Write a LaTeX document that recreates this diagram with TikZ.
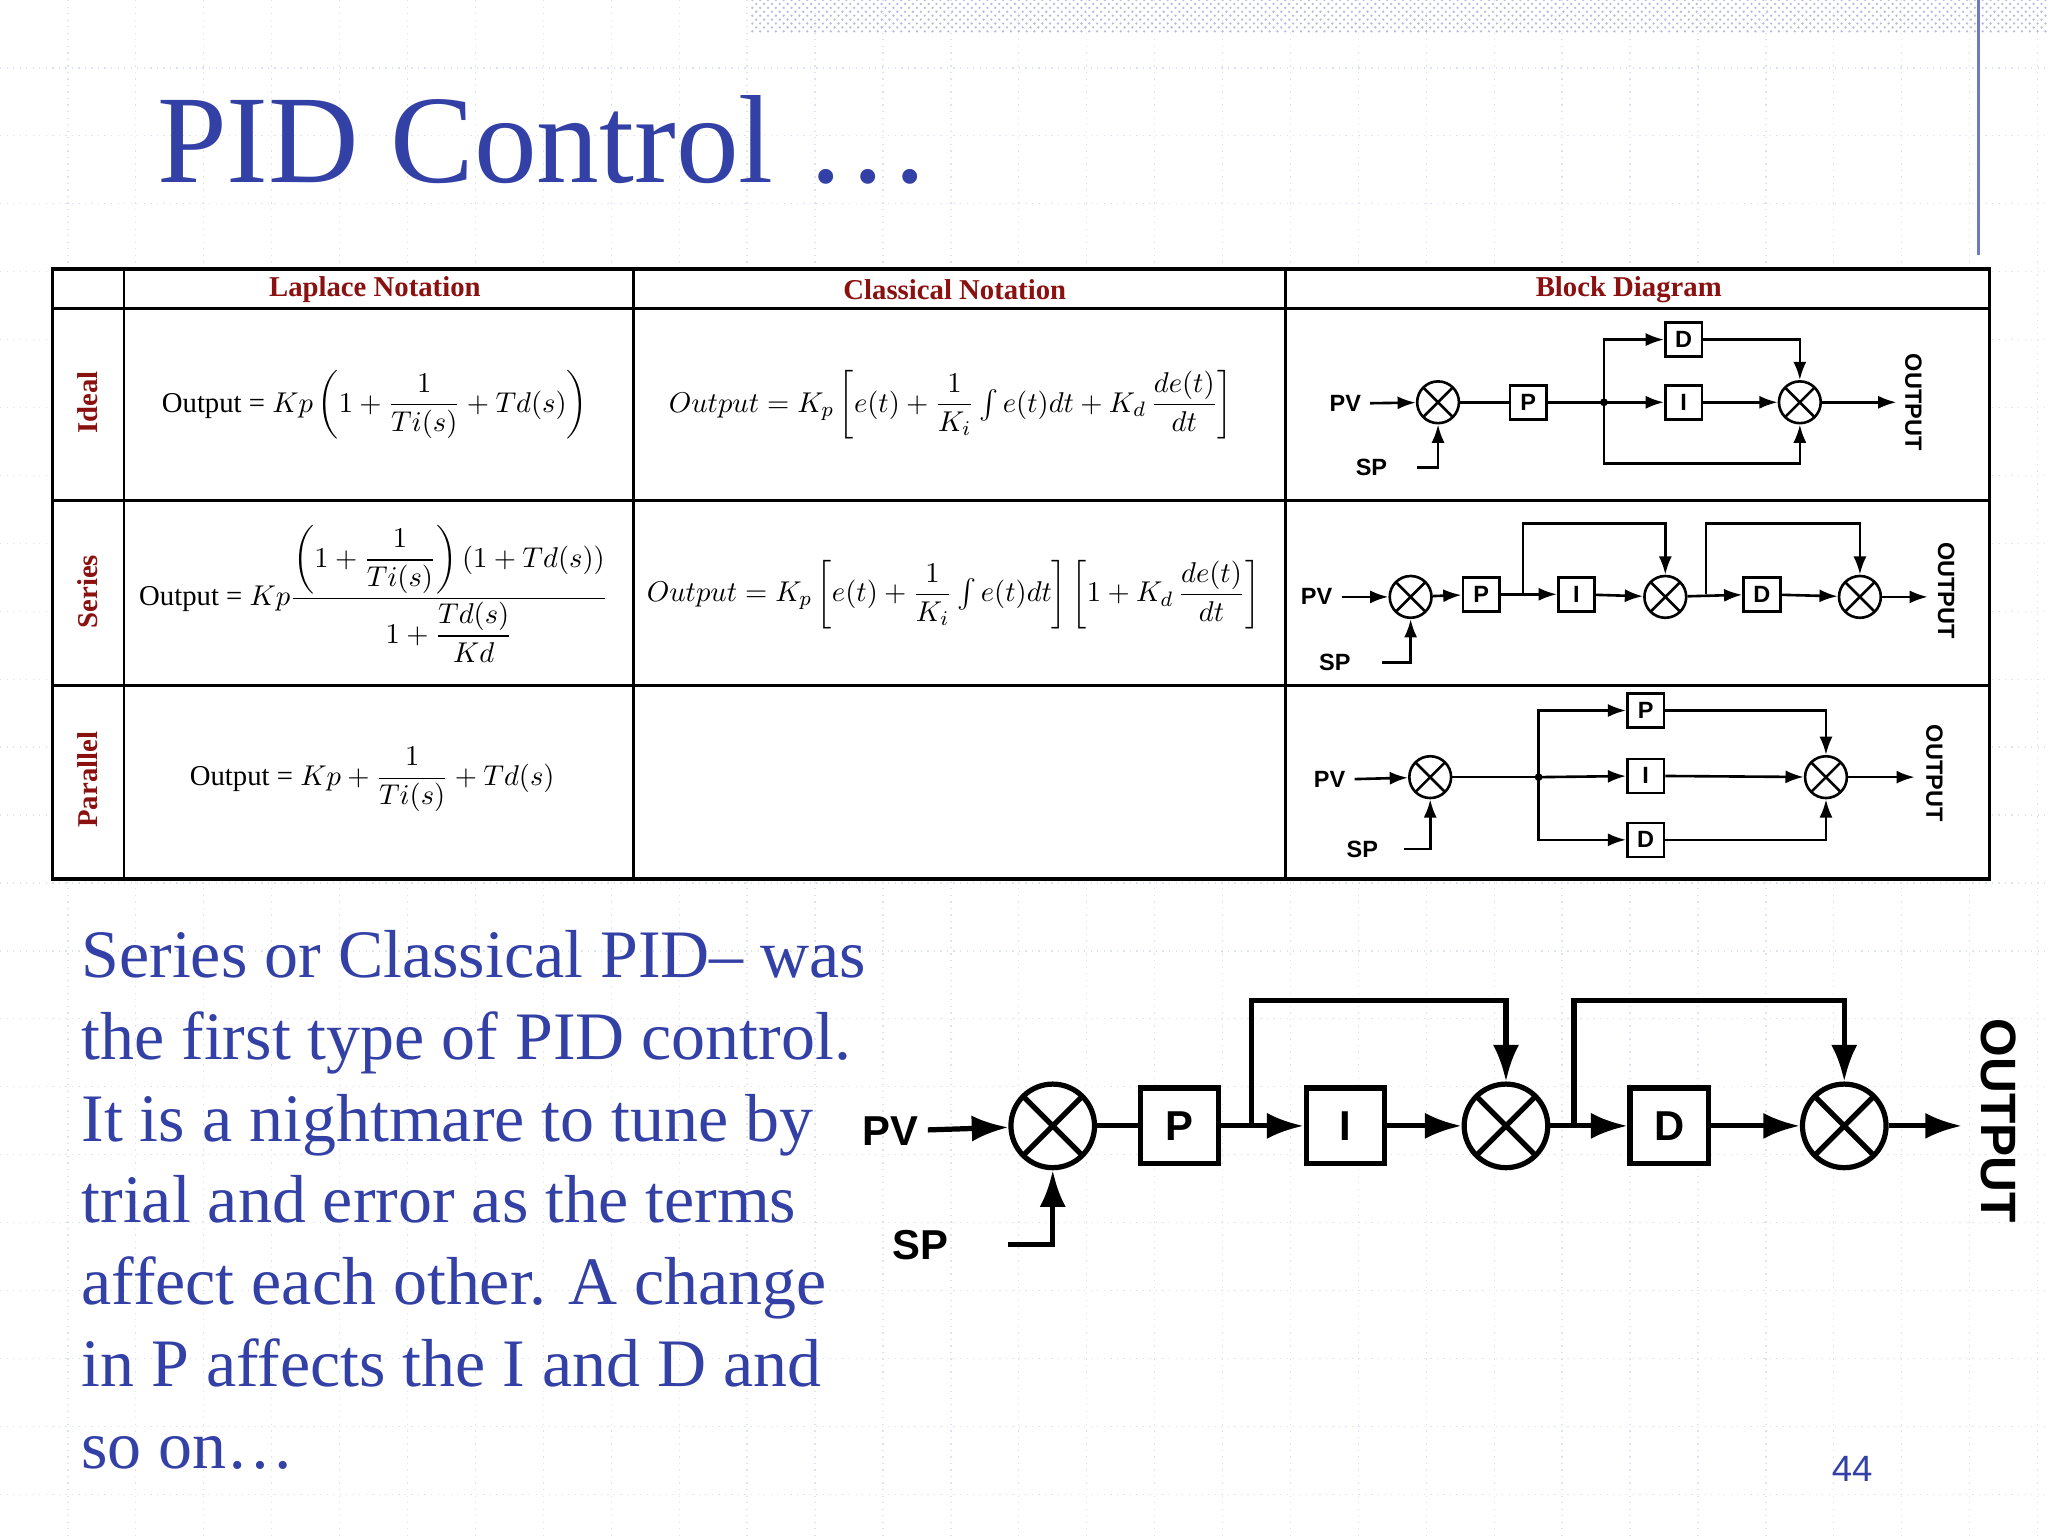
\documentclass[tikz,border=0pt]{standalone}
\usepackage{amsmath}
\usepackage{fontspec}
\setmainfont{Liberation Serif}
\newfontfamily\sans{Liberation Sans}
\usetikzlibrary{arrows.meta,patterns}
\definecolor{ttl}{HTML}{3341A6}
\definecolor{hdr}{HTML}{8B1010}
\definecolor{gridc}{HTML}{DCE2F0}
\begin{document}
\begin{tikzpicture}[x=0.5pt,y=-0.5pt,
  sj/.style={circle,draw,line width=#1,inner sep=0pt,fill=white,
    path picture={\draw[line width=#1] (path picture bounding box.north west)--(path picture bounding box.south east)
      (path picture bounding box.north east)--(path picture bounding box.south west);}},
  blk/.style={draw,line width=#1,fill=white,inner sep=0pt,font=\sans\bfseries},
  ln/.style={line width=#1},
  ar/.style={line width=#1,-{Latex[length=7pt*#1/1pt,width=5pt*#1/1pt]}},
  lbl/.style={font=\sans\bfseries\fontsize{9}{9}\selectfont}]
\useasboundingbox (0,0) rectangle (1568,1176);
\fill[white] (0,0) rectangle (1568,1176);
\foreach \x in {52,104,...,1568} \draw[gridc,dotted,line width=0.5pt] (\x,0)--(\x,1176);
\foreach \y in {52,104,...,1176} \draw[gridc,dotted,line width=0.5pt] (0,\y)--(1568,\y);
\fill[pattern=crosshatch dots,pattern color=ttl!35] (575,0) rectangle (1568,25);
\draw[ttl!70,line width=1pt] (1515,0)--(1515,195);
% title
\node[anchor=base west,text=ttl,font=\fontsize{48}{48}\selectfont,inner sep=0] (title) at (120,140) {PID Control \ldots};
% table
\fill[white] (40,206) rectangle (1523,673);
\draw[line width=1.3pt] (40,206) rectangle (1523,673);
\foreach \x in {95,485,984} \draw[line width=1pt] (\x,206)--(\x,673);
\foreach \y in {236,383,525} \draw[line width=1pt] (40,\y)--(1523,\y);
\begin{scope}[every node/.style={text=hdr,font=\bfseries\fontsize{11}{11}\selectfont}]
\node (h1) at (287,222) {Laplace Notation};
\node (h2) at (731,222) {Classical Notation};
\node (h3) at (1247,222) {Block Diagram};
\node[rotate=90] (r1) at (67,308) {Ideal};
\node[rotate=90] (r2) at (67,453) {Series};
\node[rotate=90] (r3) at (67,597) {Parallel};
\end{scope}
\begin{scope}[every node/.style={font=\fontsize{11}{13}\selectfont}]
\node (l1) at (287,310) {Output = $Kp\left(1+\dfrac{1}{Ti(s)}+Td(s)\right)$};
\node (c1) at (728,310) {$Output=K_p\left[e(t)+\dfrac{1}{K_i}\int e(t)dt+K_d\,\dfrac{de(t)}{dt}\right]$};
\node (l2) at (286,455) {Output = $Kp\dfrac{\left(1+\dfrac{1}{Ti(s)}\right)(1+Td(s))}{1+\dfrac{Td(s)}{Kd}}$};
\node (c2) at (730,455) {$Output=K_p\left[e(t)+\dfrac{1}{K_i}\int e(t)dt\right]\left[1+K_d\,\dfrac{de(t)}{dt}\right]$};
\node (l3) at (285,597) {Output = $Kp+\dfrac{1}{Ti(s)}+Td(s)$};
\end{scope}
% ideal
\node[lbl] (pv1) at (1030,309) {PV};
\node[sj=1pt,minimum size=16pt] (s1a) at (1101,308) {};
\node[blk=1pt,minimum width=14pt,minimum height=13pt,lbl] (p1) at (1170,308) {P};
\coordinate (j1) at (1228,308);
\node[blk=1pt,minimum width=14pt,minimum height=13pt,lbl] (i1) at (1289,308) {I};
\node[blk=1pt,minimum width=14pt,minimum height=13pt,lbl] (d1) at (1289,260) {D};
\node[sj=1pt,minimum size=16pt] (s1b) at (1378,308) {};
\coordinate (o1) at (1452,308);
\node[lbl,rotate=-90] (out1) at (1465,308) {OUTPUT};
\node[lbl] (sp1) at (1050,358) {SP};
\draw[ar=1pt] (pv1)--(s1a);
\draw[ln=1pt] (s1a)--(p1) (p1)--(j1);
\fill (j1) circle (3);
\draw[ar=1pt] (j1)--(i1);
\draw[ar=1pt] (i1)--(s1b);
\draw[ar=1pt] (j1)|-(d1);
\draw[ar=1pt] (d1)-|(s1b);
\draw[ar=1pt] (j1)|-(1378,355)--(s1b);
\draw[ar=1pt] (s1b)--(o1);
\draw[ar=1pt] (1085,358)-|(s1a);
% series
\node[lbl] (pv2) at (1008,457) {PV};
\node[sj=1pt,minimum size=16pt] (s2a) at (1080,457) {};
\node[blk=1pt,minimum width=14pt,minimum height=13pt,lbl] (p2) at (1134,455) {P};
\node[blk=1pt,minimum width=14pt,minimum height=13pt,lbl] (i2) at (1207,455) {I};
\node[sj=1pt,minimum size=16pt] (s2b) at (1275,457) {};
\node[blk=1pt,minimum width=14pt,minimum height=13pt,lbl] (d2) at (1349,455) {D};
\node[sj=1pt,minimum size=16pt] (s2c) at (1424,457) {};
\coordinate (o2) at (1476,457);
\node[lbl,rotate=-90] (out2) at (1490,452) {OUTPUT};
\node[lbl] (sp2) at (1022,507) {SP};
\coordinate (k2a) at (1166,455); \coordinate (k2b) at (1306,455);
\draw[ar=1pt] (pv2)--(s2a);
\draw[ar=1pt] (s2a)--(p2);
\draw[ar=1pt] (p2)--(i2);
\draw[ar=1pt] (i2)--(s2b);
\draw[ar=1pt] (s2b)--(d2);
\draw[ar=1pt] (d2)--(s2c);
\draw[ar=1pt] (s2c)--(o2);
\draw[ar=1pt] (k2a)|-(1275,401)--(s2b);
\draw[ar=1pt] (k2b)|-(1424,401)--(s2c);
\draw[ar=1pt] (1058,507)-|(s2a);
% parallel
\node[lbl] (pv3) at (1018,597) {PV};
\node[sj=1pt,minimum size=16pt] (s3a) at (1095,595) {};
\coordinate (j3) at (1178,595);
\node[blk=1pt,minimum width=14pt,minimum height=13pt,lbl] (p3) at (1260,544) {P};
\node[blk=1pt,minimum width=14pt,minimum height=13pt,lbl] (i3) at (1260,594) {I};
\node[blk=1pt,minimum width=14pt,minimum height=13pt,lbl] (d3) at (1260,643) {D};
\node[sj=1pt,minimum size=16pt] (s3b) at (1398,595) {};
\coordinate (o3) at (1466,595);
\node[lbl,rotate=-90] (out3) at (1481,592) {OUTPUT};
\node[lbl] (sp3) at (1043,650) {SP};
\draw[ar=1pt] (pv3)--(s3a);
\draw[ln=1pt] (s3a)--(j3);
\fill (j3) circle (3);
\draw[ar=1pt] (j3)|-(p3);
\draw[ar=1pt] (j3)--(i3);
\draw[ar=1pt] (j3)|-(d3);
\draw[ar=1pt] (p3)-|(s3b);
\draw[ar=1pt] (i3)--(s3b);
\draw[ar=1pt] (d3)-|(s3b);
\draw[ar=1pt] (s3b)--(o3);
\draw[ar=1pt] (1075,650)-|(s3a);
% body text
\node[anchor=north west,text=ttl,font=\fontsize{26}{31.3}\selectfont,align=left,inner sep=0] (body) at (62,712)
{Series or Classical PID-- was\\the first type of PID control.\\It is a nightmare to tune by\\trial and error as the terms\\affect each other. A change\\in P affects the I and D and\\so on\ldots};
% big diagram
\begin{scope}[lbl/.style={font=\sans\bfseries\fontsize{16}{16}\selectfont}]
\node[lbl] (pvb) at (682,866) {PV};
\node[sj=2pt,minimum size=32pt] (sba) at (806,862) {};
\node[blk=2pt,minimum width=30pt,minimum height=29pt,lbl] (pb) at (903,862) {P};
\node[blk=2pt,minimum width=30pt,minimum height=29pt,lbl] (ib) at (1030,862) {I};
\node[sj=2pt,minimum size=32pt] (sbb) at (1153,862) {};
\node[blk=2pt,minimum width=30pt,minimum height=29pt,lbl] (db) at (1278,862) {D};
\node[sj=2pt,minimum size=32pt] (sbc) at (1412,862) {};
\coordinate (ob) at (1502,862);
\node[rotate=-90,font=\sans\bfseries\fontsize{19}{19}\selectfont] (outb) at (1530,858) {OUTPUT};
\node[lbl] (spb) at (705,953) {SP};
\coordinate (kba) at (958,862); \coordinate (kbb) at (1205,862);
\draw[ar=2pt] (pvb)--(sba);
\draw[ln=2pt] (sba)--(pb);
\draw[ar=2pt] (pb)--(ib);
\draw[ar=2pt] (ib)--(sbb);
\draw[ar=2pt] (sbb)--(db);
\draw[ar=2pt] (db)--(sbc);
\draw[ar=2pt] (sbc)--(ob);
\draw[ar=2pt] (kba)|-(1153,766)--(sbb);
\draw[ar=2pt] (kbb)|-(1412,766)--(sbc);
\draw[ar=2pt] (772,953)-|(sba);
\end{scope}
\node[text=ttl,font=\sans\fontsize{14}{14}\selectfont] (pg) at (1418,1125) {44};
\end{tikzpicture}
\end{document}
